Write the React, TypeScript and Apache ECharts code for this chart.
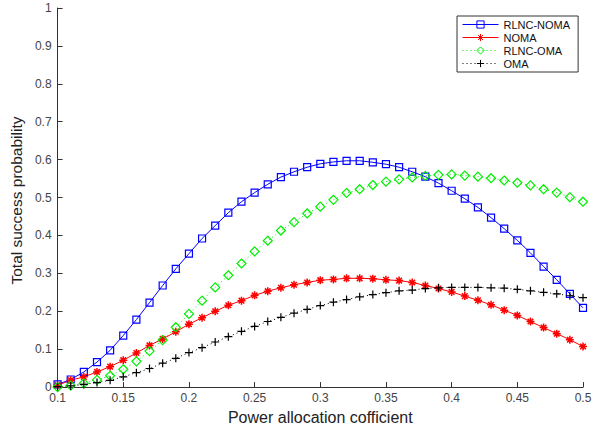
import React, { useEffect, useRef } from "react";
import * as echarts from "echarts";

const xValues = [
  0.1, 0.11, 0.12, 0.13, 0.14, 0.15, 0.16, 0.17, 0.18, 0.19, 0.2,
  0.21, 0.22, 0.23, 0.24, 0.25, 0.26, 0.27, 0.28, 0.29, 0.3,
  0.31, 0.32, 0.33, 0.34, 0.35, 0.36, 0.37, 0.38, 0.39, 0.4,
  0.41, 0.42, 0.43, 0.44, 0.45, 0.46, 0.47, 0.48, 0.49, 0.5,
];

const rlncNoma = [
  0.007, 0.02, 0.04, 0.066, 0.097, 0.136, 0.178, 0.223, 0.268, 0.312, 0.352,
  0.392, 0.426, 0.46, 0.489, 0.513, 0.535, 0.554, 0.568, 0.58, 0.589,
  0.594, 0.597, 0.597, 0.593, 0.588, 0.58, 0.568, 0.555, 0.538, 0.518,
  0.497, 0.474, 0.447, 0.418, 0.387, 0.354, 0.318, 0.283, 0.246, 0.209,
];

const noma = [
  0.005, 0.018, 0.027, 0.04, 0.054, 0.071, 0.09, 0.11, 0.127, 0.146, 0.166,
  0.183, 0.2, 0.216, 0.228, 0.242, 0.253, 0.262, 0.27, 0.276, 0.282,
  0.284, 0.287, 0.287, 0.286, 0.283, 0.281, 0.276, 0.268, 0.26, 0.251,
  0.24, 0.229, 0.217, 0.203, 0.189, 0.173, 0.157, 0.141, 0.125, 0.107,
];

const rlncOma = [
  0.0, 0.004, 0.01, 0.019, 0.03, 0.047, 0.068, 0.095, 0.124, 0.158, 0.193,
  0.228, 0.263, 0.295, 0.326, 0.358, 0.386, 0.413, 0.435, 0.458, 0.476,
  0.494, 0.512, 0.522, 0.533, 0.542, 0.548, 0.553, 0.557, 0.56, 0.561,
  0.558, 0.555, 0.551, 0.545, 0.539, 0.532, 0.522, 0.513, 0.501, 0.489,
];

const oma = [
  0.001, 0.003, 0.007, 0.012, 0.018, 0.027, 0.038, 0.049, 0.063, 0.076, 0.091,
  0.104, 0.119, 0.133, 0.147, 0.16, 0.173, 0.184, 0.195, 0.205, 0.215,
  0.224, 0.231, 0.238, 0.244, 0.249, 0.254, 0.256, 0.26, 0.262, 0.263,
  0.263, 0.263, 0.262, 0.261, 0.258, 0.254, 0.25, 0.246, 0.241, 0.236,
];

const seriesNames = ["RLNC-NOMA", "NOMA", "RLNC-OMA", "OMA"];
const xTickLabels = ["0.1", "0.15", "0.2", "0.25", "0.3", "0.35", "0.4", "0.45", "0.5"];
const yTickLabels = ["0", "0.1", "0.2", "0.3", "0.4", "0.5", "0.6", "0.7", "0.8", "0.9", "1"];

const pair = (ys: number[]) => xValues.map((x, i) => [x, ys[i]]);

const FONT = "'Liberation Sans', Arial, Helvetica, sans-serif";
const CLEAR = "rgba(0,0,0,0)";

export default function App() {
  const ref = useRef<HTMLDivElement>(null);
  useEffect(() => {
    if (!ref.current) return;
    const chart = echarts.init(ref.current, undefined, { renderer: "svg" });
    const star = "path://M0 5 L10 5 M5 0 L5 10 M1.5 1.5 L8.5 8.5 M8.5 1.5 L1.5 8.5";
    const plus = "path://M0 5 L10 5 M5 0 L5 10";
    chart.setOption({
      animation: false,
      backgroundColor: "#ffffff",
      textStyle: { fontFamily: FONT },
      grid: { left: 57, right: 26, top: 8, bottom: 42, containLabel: false },
      legend: {
        orient: "vertical",
        left: 457,
        top: 16,
        padding: [3, 8, 3, 5],
        itemWidth: 36,
        itemHeight: 9,
        itemGap: 2,
        borderColor: "#333",
        borderWidth: 1,
        borderRadius: 0,
        backgroundColor: "#fff",
        lineStyle: { width: 1 },
        itemStyle: { borderWidth: 1 },
        textStyle: { fontSize: 11, color: "#111", fontFamily: FONT },
        data: seriesNames,
      },
      xAxis: {
        type: "value",
        min: 0.1,
        max: 0.5,
        interval: 0.05,
        name: "Power allocation cofficient",
        nameLocation: "middle",
        nameGap: 20,
        nameTextStyle: { fontSize: 16, color: "#222", fontFamily: FONT },
        axisLine: { lineStyle: { color: "#333", width: 1 } },
        axisTick: { inside: true, length: 5, lineStyle: { color: "#333" } },
        axisLabel: {
          fontSize: 12,
          color: "#444",
          margin: 5,
          formatter: (v: number) => {
            const s = String(+v.toFixed(2));
            return xTickLabels.includes(s) ? s : "";
          },
        },
        splitLine: { show: false },
      },
      yAxis: {
        type: "value",
        min: 0,
        max: 1,
        interval: 0.1,
        name: "Total success probability",
        nameLocation: "middle",
        nameGap: 29,
        nameTextStyle: {
          fontSize: 15.5,
          color: "#222",
          fontFamily: FONT,
          padding: [0, 6, 0, 0],
        },
        axisLine: { show: true, lineStyle: { color: "#333", width: 1 } },
        axisTick: { show: true, inside: true, length: 5, lineStyle: { color: "#333" } },
        axisLabel: {
          fontSize: 12,
          color: "#444",
          margin: 6,
          formatter: (v: number) => {
            const s = String(+v.toFixed(2));
            return yTickLabels.includes(s) ? s : "";
          },
        },
        splitLine: { show: false },
      },
      series: [
        {
          name: seriesNames[0],
          type: "line",
          data: pair(rlncNoma),
          symbol: "rect",
          symbolSize: 7,
          lineStyle: { color: "#0000ff", width: 1 },
          itemStyle: { color: CLEAR, borderColor: "#0000ff", borderWidth: 1.2, opacity: 1 },
          emphasis: { disabled: true },
        },
        {
          name: seriesNames[1],
          type: "line",
          data: pair(noma),
          symbol: star,
          symbolSize: 8,
          lineStyle: { color: "#ff0000", width: 1 },
          itemStyle: { color: CLEAR, borderColor: "#ff0000", borderWidth: 1.5 },
          emphasis: { disabled: true },
        },
        {
          name: seriesNames[2],
          type: "line",
          data: pair(rlncOma),
          symbol: "diamond",
          symbolSize: 9,
          lineStyle: { color: "#00ee00", width: 1, type: [1, 3] },
          itemStyle: { color: CLEAR, borderColor: "#00ee00", borderWidth: 1.2 },
          emphasis: { disabled: true },
        },
        {
          name: seriesNames[3],
          type: "line",
          data: pair(oma),
          symbol: plus,
          symbolSize: 8,
          lineStyle: { color: "#000000", width: 1, type: [1, 3] },
          itemStyle: { color: CLEAR, borderColor: "#000000", borderWidth: 1.2 },
          emphasis: { disabled: true },
        },
      ],
    });
    return () => chart.dispose();
  }, []);
  return (
    <div
      ref={ref}
      style={{ position: "fixed", left: 0, top: 0, width: 609, height: 430, background: "#fff" }}
    />
  );
}
